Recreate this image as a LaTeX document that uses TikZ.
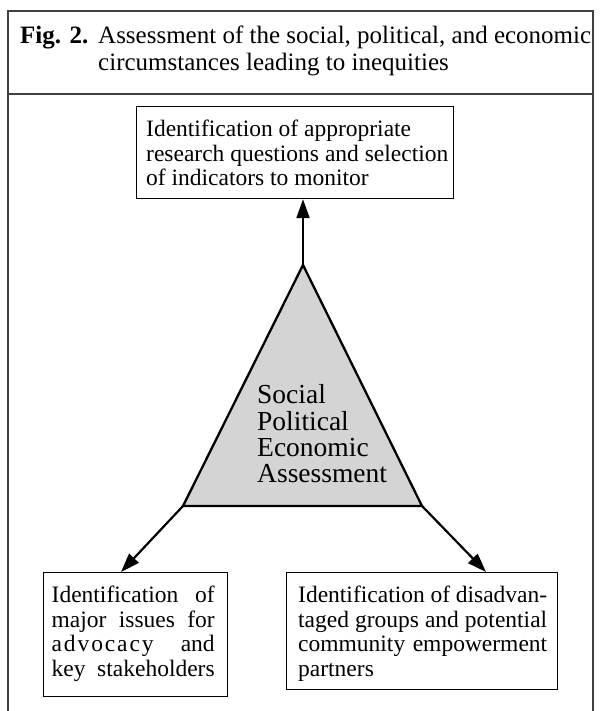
\documentclass[tikz,border=0pt]{standalone}
\usepackage{fontspec}
\setmainfont{Liberation Serif}
\usetikzlibrary{arrows.meta,calc}
\begin{document}
\begin{tikzpicture}[x=1pt,y=-1pt,
  frameline/.style={draw=black!75, line width=1.4pt},
  rectbox/.style={draw, line width=1.2pt, anchor=north west, inner sep=0pt},
  txt/.style={anchor=north west, inner sep=0pt, align=left,
    font=\fontsize{23.5}{24.5}\selectfont},
  arr/.style={line width=2.2pt, -{Triangle[length=19pt,width=13pt]}},
  tri/.style={fill=black!17, draw, line width=2.3pt, line join=miter},
  ttl/.style={anchor=base west, inner sep=0pt, font=\fontsize{25}{25}\selectfont}]
\useasboundingbox (0,0) rectangle (603,711);
% frame
\draw[frameline] (8,711) -- (8,11) -- (593,11) -- (593,711);
\draw[frameline] (8,94) -- (593,94);
% title
\node[ttl] (fig) at (20,44) {\textbf{Fig. 2.}};
\node[ttl] (t1) at ($(fig.base west)+(78,0)$) {Assessment of the social, political, and economic};
\node[ttl] (t2) at ($(t1.base west)+(0,26.5)$) {circumstances leading to inequities};
% top box
\node[rectbox, minimum width=317pt, minimum height=92pt] (top) at (136,106) {};
\node[txt] (toptxt) at (146,120)
  {Identification of appropriate\\research questions and selection\\of indicators to monitor};
% left box
\node[rectbox, minimum width=184pt, minimum height=124pt] (lbox) at (43,572) {};
\node[txt] (ltxt) at (51.5,586)
  {\makebox[163pt][s]{Identification of}\\
   \makebox[163pt][s]{major issues for}\\
   \makebox[163pt][s]{{\addfontfeature{LetterSpace=8}advocacy}\hfill and}\\
   \makebox[163pt][s]{key stakeholders}};
% right box
\node[rectbox, minimum width=271pt, minimum height=117pt] (rbox) at (286,572) {};
\node[txt] (rtxt) at (298,586)
  {\makebox[249pt][s]{Identification of disadvan-}\\
   \makebox[249pt][s]{taged groups and potential}\\
   \makebox[249pt][s]{community empowerment}\\
   partners};
% triangle
\coordinate (apex) at (303,265);
\coordinate (bl) at (183,506);
\coordinate (br) at (422,506);
\draw[tri] (apex) -- (bl) -- (br) -- cycle;
\node[anchor=north west, inner sep=0pt, align=left,
  font=\fontsize{27.5}{26.3}\selectfont] (spe) at (257,384.5)
  {Social\\Political\\Economic\\Assessment};
% arrows
\coordinate (ltip) at ($(lbox.north west)+(78,0)$);
\coordinate (rtip) at ($(rbox.north west)+(200,0)$);
\draw[arr] (apex) -- (apex |- top.south);
\draw[arr] (bl) -- (ltip);
\draw[arr] (br) -- (rtip);
\end{tikzpicture}
\end{document}
